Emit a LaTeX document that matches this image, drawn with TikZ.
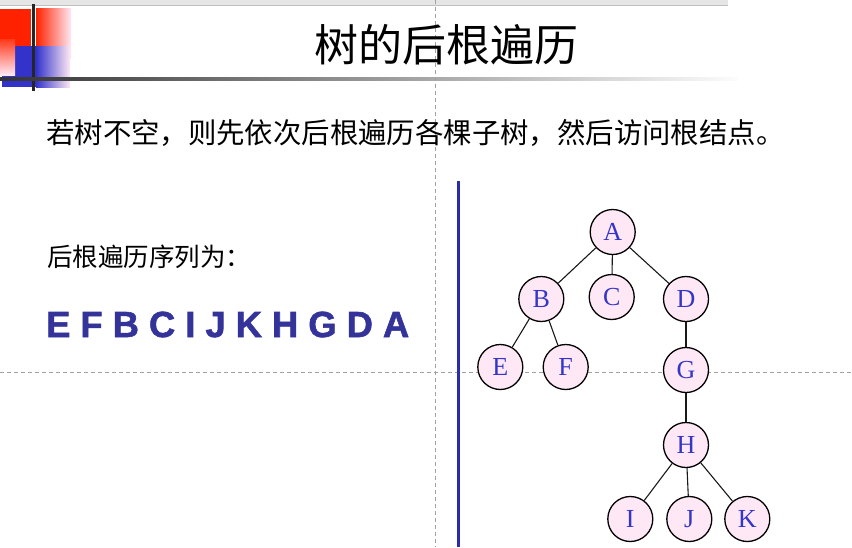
\documentclass[tikz,border=0pt]{standalone}
\usepackage{fontspec}
\setmainfont{Liberation Serif}
\setsansfont{Liberation Sans}
\newfontfamily\cjk{Noto Sans CJK SC}
\newfontfamily\seqfont[FakeBold=1.6]{Liberation Sans Bold}
\definecolor{seqblue}{HTML}{333399}
\definecolor{letblue}{HTML}{3535C8}
\definecolor{nodepink}{HTML}{FFE8F6}
\definecolor{decored}{HTML}{FF2200}
\definecolor{decoblue}{HTML}{3333CC}
\definecolor{fadepink}{HTML}{FFE8F4}
\definecolor{guidegray}{HTML}{A0A0A0}
\begin{document}
\begin{tikzpicture}[x=1pt,y=-1pt,
  tnode/.style={circle,draw=black,line width=1.3pt,fill=nodepink,minimum size=45pt,inner sep=0pt,
    text=letblue,font=\fontsize{26}{26}\selectfont},
  tedge/.style={draw=black!90,line width=1.1pt},
  guide/.style={draw=guidegray,line width=0.8pt,dash pattern=on 4pt off 3pt},
  cjktext/.style={inner sep=0pt,anchor=west,text=black}]
\useasboundingbox (0,0) rectangle (852,547);
% header band
\fill[black!10] (0,0) rectangle (728,5);
\draw[black!25,line width=1pt] (0,5.5) -- (728,5.5);
% corner decoration
\fill[decored] (0,9) rectangle (31,46);
\shade[left color=decored,right color=fadepink] (36,8) rectangle (71,58);
\fill[decoblue] (2,46) rectangle (36,87);
\shade[left color=decoblue,right color=fadepink] (36,46) rectangle (70,87);
\shade[top color=decored!90,bottom color=fadepink] (0,39) rectangle (15,75);
\fill[black!85] (32,4) rectangle (35,91);
\shade[left color=black!80,right color=fadepink!90!black!8] (0,77) rectangle (738,80.5);
% guide lines
\draw[guide] (435,0) -- (435,547);
\draw[guide] (0,372) -- (852,372);
% texts
\node[inner sep=0pt,font=\cjk\fontsize{44}{44}\selectfont] (title) at (446,45) {树的后根遍历};
\node[cjktext,font=\cjk\fontsize{28.4}{28.4}\selectfont] (intro) at (46,133) {若树不空，则先依次后根遍历各棵子树，然后访问根结点。};
\node[cjktext,font=\cjk\fontsize{25.5}{25.5}\selectfont] (seqlabel) at (47,257) {后根遍历序列为：};
\node[inner sep=0pt,anchor=west,text=seqblue,font=\seqfont\fontsize{36.3}{36.3}\selectfont] (seq) at (46,324.5) {E F B C I J K H G D A};
% divider
\draw[decoblue!85!black,line width=2.4pt] (458.5,181) coordinate (dtop) -- (458.5,547) coordinate (dbot);
% tree
\node[tnode] (A) at (612.7,232) {A};
\node[tnode] (B) at (541.3,299) {B};
\node[tnode] (C) at (611.7,297) {C};
\node[tnode] (D) at (686,299) {D};
\node[tnode] (E) at (500.3,367) {E};
\node[tnode] (F) at (565.7,367) {F};
\node[tnode] (G) at (686,370) {G};
\node[tnode] (H) at (686,445) {H};
\node[tnode] (I) at (630.3,519) {I};
\node[tnode] (J) at (689.3,519) {J};
\node[tnode] (K) at (747.3,519) {K};
\draw[tedge] (A) -- (B);
\draw[tedge] (A) -- (C);
\draw[tedge] (A) -- (D);
\draw[tedge] (B) -- (E);
\draw[tedge] (B) -- (F);
\draw[tedge] (D) -- (G);
\draw[tedge] (G) -- (H);
\draw[tedge] (H) -- (I);
\draw[tedge] (H) -- (J);
\draw[tedge] (H) -- (K);
\end{tikzpicture}
\end{document}
